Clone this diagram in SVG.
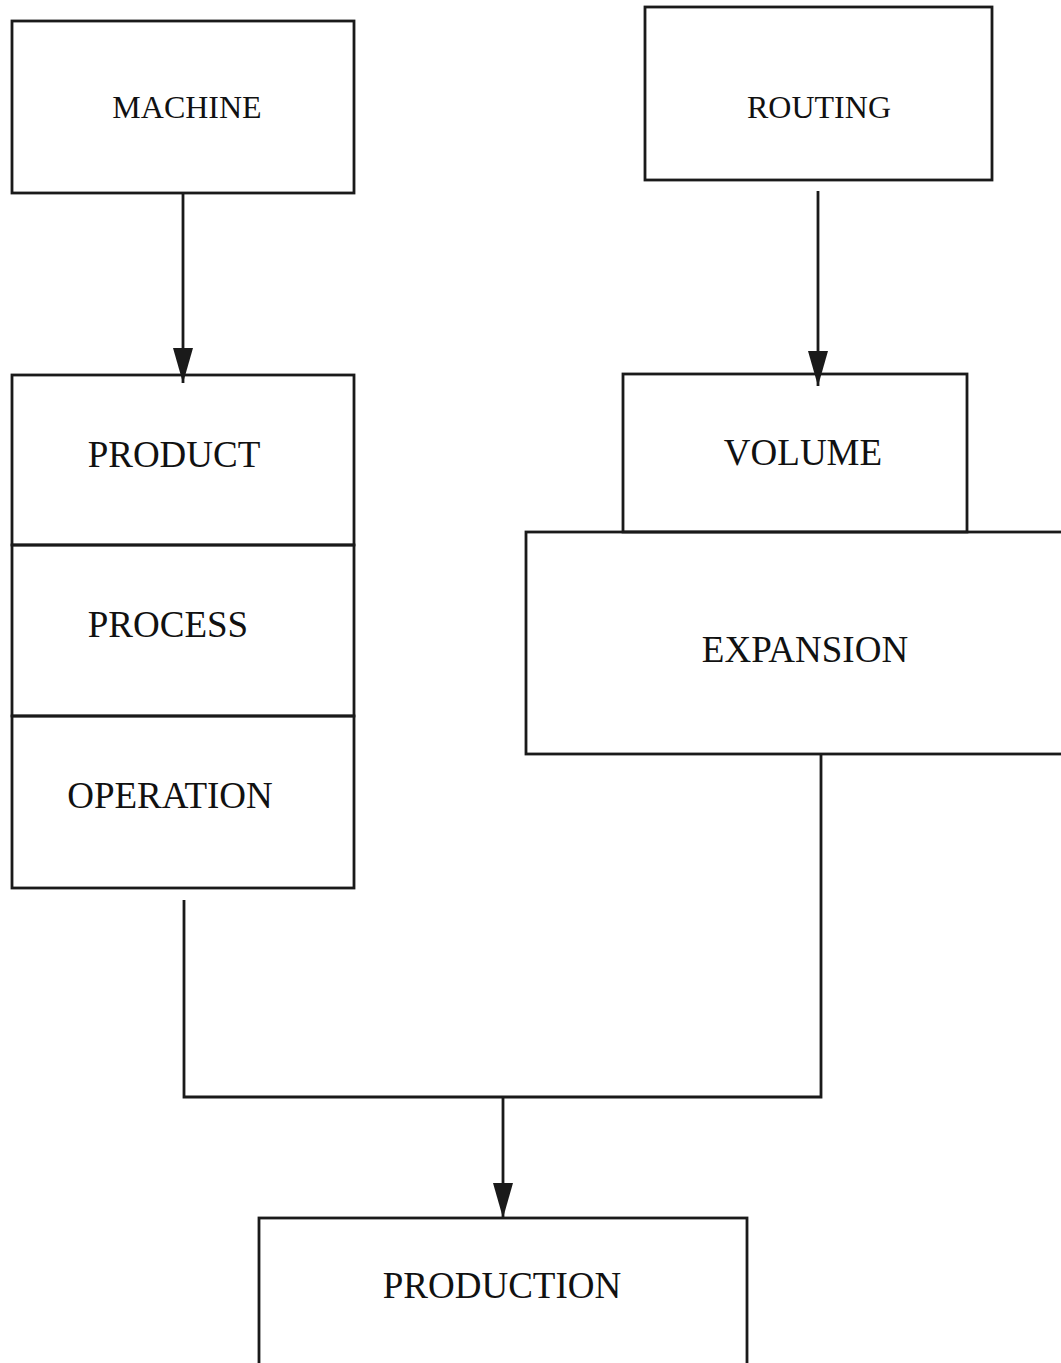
<svg xmlns="http://www.w3.org/2000/svg" width="1061" height="1363" viewBox="0 0 1061 1363">
<defs>
<style>
.box{fill:none;stroke:#1a1a1a;stroke-width:2.8}
.con{fill:none;stroke:#1a1a1a;stroke-width:2.8}
.lbl{font-family:"Liberation Serif","Times New Roman",serif;fill:#111;text-anchor:middle}
.big{font-size:37px}
.sm{font-size:32px}
</style>
<marker id="ah" viewBox="0 0 35 20" refX="35" refY="10" markerWidth="35" markerHeight="20" markerUnits="userSpaceOnUse" orient="auto">
<path d="M0,0 L35,10 L0,20 z" fill="#1a1a1a"/>
</marker>
</defs>
<rect width="1061" height="1363" fill="#fff"/>
<g id="connectors">
<line class="con" x1="183" y1="193" x2="183" y2="383" marker-end="url(#ah)"/>
<line class="con" x1="818" y1="191" x2="818" y2="386" marker-end="url(#ah)"/>
<polyline class="con" points="184,900 184,1097 821,1097 821,755"/>
<line class="con" x1="503" y1="1097" x2="503" y2="1218" marker-end="url(#ah)"/>
</g>
<g id="machine">
<rect class="box" x="12" y="21" width="342" height="172"/>
<text class="lbl sm" x="187" y="118">MACHINE</text>
</g>
<g id="routing">
<rect class="box" x="645" y="7" width="347" height="173"/>
<text class="lbl sm" x="819" y="118">ROUTING</text>
</g>
<g id="product">
<rect class="box" x="12" y="375" width="342" height="170"/>
<text class="lbl big" x="174" y="467">PRODUCT</text>
</g>
<g id="process">
<rect class="box" x="12" y="545" width="342" height="171"/>
<text class="lbl big" x="168" y="637">PROCESS</text>
</g>
<g id="operation">
<rect class="box" x="12" y="716" width="342" height="172"/>
<text class="lbl big" x="170" y="808">OPERATION</text>
</g>
<g id="volume">
<rect class="box" x="623" y="374" width="344" height="158"/>
<text class="lbl big" x="803" y="465">VOLUME</text>
</g>
<g id="expansion">
<rect class="box" x="526" y="532" width="545" height="222"/>
<text class="lbl big" x="805" y="662">EXPANSION</text>
</g>
<g id="production">
<rect class="box" x="259" y="1218" width="488" height="160"/>
<text class="lbl big" x="502" y="1298">PRODUCTION</text>
</g>
</svg>
